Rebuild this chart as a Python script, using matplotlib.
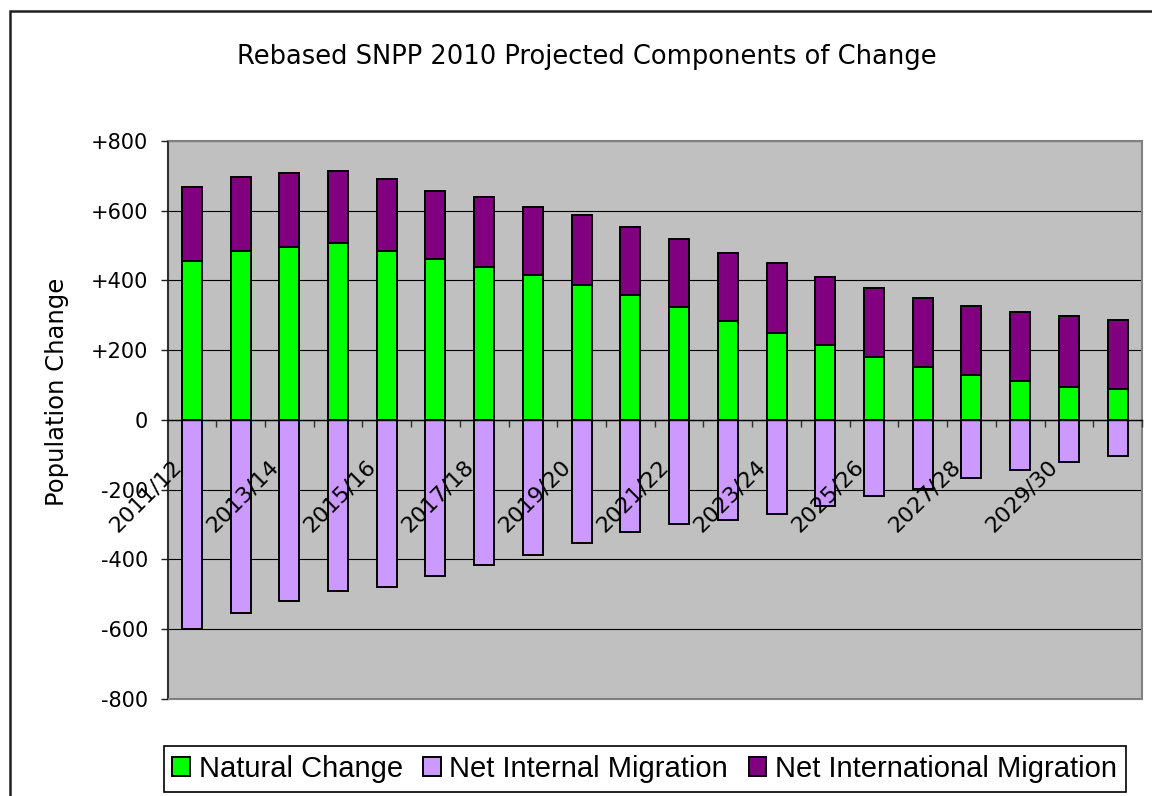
import matplotlib
matplotlib.use("Agg")
import matplotlib.pyplot as plt
from matplotlib.ticker import FuncFormatter, FixedLocator
from matplotlib.patches import Rectangle
from matplotlib.transforms import ScaledTranslation

plt.rcParams['font.family'] = ['DejaVu Sans']

years = ["2011/12", "2012/13", "2013/14", "2014/15", "2015/16", "2016/17",
         "2017/18", "2018/19", "2019/20", "2020/21", "2021/22", "2022/23",
         "2023/24", "2024/25", "2025/26", "2026/27", "2027/28", "2028/29",
         "2029/30", "2030/31"]

natural = [455, 484, 495, 507, 484, 461, 438, 415, 387, 358,
           324, 284, 249, 215, 181, 152, 129, 112, 95, 89]
internal = [-600, -554, -520, -491, -480, -446, -417, -388, -354, -320,
            -297, -286, -269, -246, -217, -198, -166, -143, -120, -103]
international = [213, 213, 214, 208, 207, 196, 202, 196, 202, 196,
                 196, 196, 202, 196, 196, 197, 197, 197, 202, 197]

yticks = list(range(-800, 801, 200))

fig = plt.figure(figsize=(11.52, 7.96), dpi=100)
ax = fig.add_axes([0.1454, 0.1219, 0.8459, 0.7010])
ax.set_facecolor('#C0C0C0')
# axis (ticks and labels) on top of the bars, gridlines drawn underneath
ax.set_axisbelow(False)

x = list(range(len(years)))
w = 0.41
edge = dict(edgecolor='black', linewidth=1.4)
for v in yticks:
    ax.axhline(v, color='black', linewidth=0.8, zorder=0.5)
ax.bar(x, natural, w, color='#00FF00', label='Natural Change', zorder=2, **edge)
ax.bar(x, internal, w, color='#CC99FF', label='Net Internal Migration', zorder=2, **edge)
ax.bar(x, international, w, bottom=natural, color='#800080',
       label='Net International Migration', zorder=2, **edge)

ax.set_xlim(-0.5, len(years) - 0.5)
ax.set_ylim(-800, 800)
ax.set_yticks(yticks)
ax.yaxis.set_major_formatter(FuncFormatter(lambda v, _: f"+{int(v)}" if v > 0 else f"{int(v)}"))
ax.tick_params(axis='y', direction='out', length=5, width=1, pad=9,
               labelsize=15, color='#202020')

# category axis sits on the zero line
ax.spines['bottom'].set_position(('data', 0))
ax.spines['bottom'].set_color('black')
ax.spines['bottom'].set_linewidth(1)
ax.xaxis.set_major_locator(FixedLocator([i + 0.5 for i in x]))
ax.xaxis.set_major_formatter(FuncFormatter(lambda v, _: ""))
ax.tick_params(axis='x', which='major', direction='out', length=5, width=1, color='#303030')
ax.set_xticks(x[::2], years[::2], minor=True)
ax.tick_params(axis='x', which='minor', length=0, pad=34, labelsize=16)
shift = ScaledTranslation(-7 / 72, 0, fig.dpi_scale_trans)
for lab in ax.get_xticklabels(minor=True):
    lab.set_rotation(45)
    lab.set_rotation_mode('anchor')
    lab.set_ha('right')
    lab.set_va('baseline')
    lab.set_transform(lab.get_transform() + shift)

ax.spines['left'].set_color('#303030')
ax.spines['left'].set_linewidth(1.5)
for s in ('top', 'right'):
    ax.spines[s].set_color('#808080')
    ax.spines[s].set_linewidth(1.5)
ax.add_patch(Rectangle((0, 0), 1, 0.0001, transform=ax.transAxes, facecolor='none',
                       edgecolor='#808080', linewidth=1.5, clip_on=False, zorder=5))

ax.set_ylabel('Population Change', fontsize=17.5)
ax.yaxis.set_label_coords(-0.101, 0.55)

fig.text(0.5095, 0.928, 'Rebased SNPP 2010 Projected Components of Change',
         ha='center', va='center', fontsize=18.5)

leg = fig.legend(loc='center', bbox_to_anchor=(0.5595, 0.034), ncol=3,
                 prop={'family': ['Liberation Sans Narrow', 'Liberation Sans'], 'size': 21},
                 frameon=True, fancybox=False, edgecolor='black', framealpha=1,
                 handlelength=0.6, handleheight=0.6, handletextpad=0.3,
                 columnspacing=0.7, borderpad=0.3, borderaxespad=0)
leg.get_frame().set_linewidth(1.2)

# outer chart border
fig.add_artist(Rectangle((10 / 1152, -0.1), 1.2, 1 - 11 / 796 + 0.1,
                         transform=fig.transFigure, facecolor='none',
                         edgecolor='#202020', linewidth=1.8))

fig.savefig('out.png', dpi=100)
